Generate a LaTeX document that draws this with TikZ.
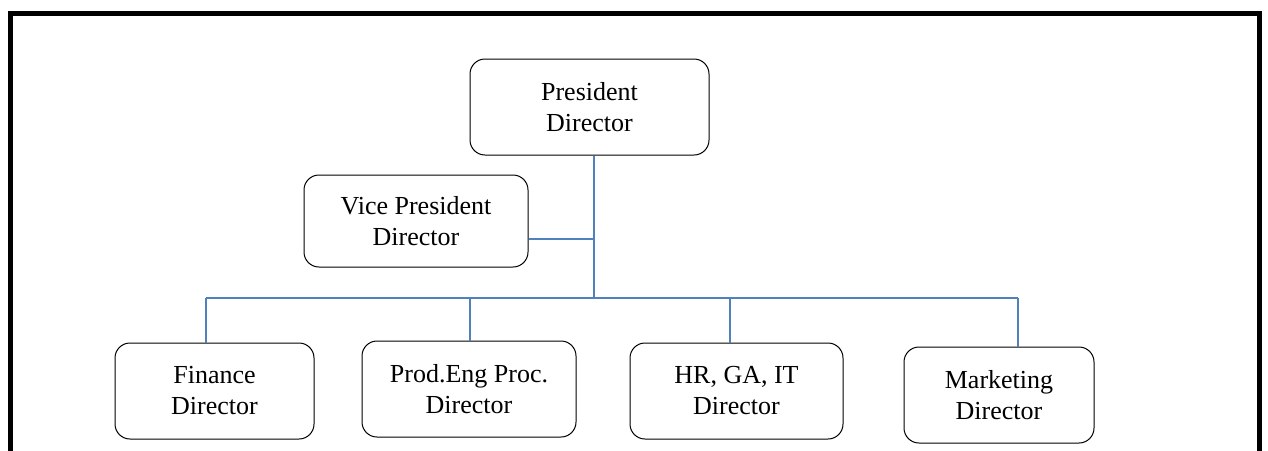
\documentclass[tikz,border=0pt]{standalone}
\usepackage{fontspec}
\setmainfont{Liberation Serif}
\usepackage{tikz}
\usetikzlibrary{arrows.meta}
\definecolor{linkblue}{RGB}{79,129,189}

\begin{document}
\begin{tikzpicture}[x=0.5pt,y=-0.5pt]
\tikzstyle{every node}=[font=\fontsize{13}{15.5}\selectfont]
\tikzstyle{post}=[draw, rounded corners=7.5pt, line width=0.5pt, align=center, inner sep=0pt]
\tikzstyle{link}=[draw=linkblue, line width=1pt]
\useasboundingbox (0,0) rectangle (1268,450);
% frame, open at the bottom
\draw[line width=2.6pt] (10.5,452) -- (10.5,13.5) -- (1259.5,13.5) -- (1259.5,452);
% boxes
\node (pres) [post, minimum width=119.5pt, minimum height=48pt] at (589.5,107) {President\\Director};
\node (vice) [post, minimum width=112pt, minimum height=46pt] at (416,221) {Vice President\\Director};
\node (fin) [post, minimum width=99.5pt, minimum height=48pt] at (214.5,391) {Finance\\Director};
\node (prod) [post, minimum width=107pt, minimum height=48pt] at (469,389) {Prod.Eng Proc.\\Director};
\node (hr) [post, minimum width=106.5pt, minimum height=48pt] at (736.5,391) {HR, GA, IT\\Director};
\node (mkt) [post, minimum width=95pt, minimum height=48pt] at (999,395) {Marketing\\Director};
% bus
\coordinate (trunk) at (594,298);
\coordinate (busl) at (206,298);
\coordinate (busr) at (1018,298);
\draw[link] (pres.south -| trunk) -- (trunk);
\draw[link] (vice.east) ++(0,18) -- (594,239);
\draw[link] (busl) -- (busr);
\draw[link] (busl) -- (busl |- fin.north);
\draw[link] (470,298) -- (470,341);
\draw[link] (730,298) -- (730,343);
\draw[link] (busr) -- (busr |- mkt.north);
\end{tikzpicture}
\end{document}
